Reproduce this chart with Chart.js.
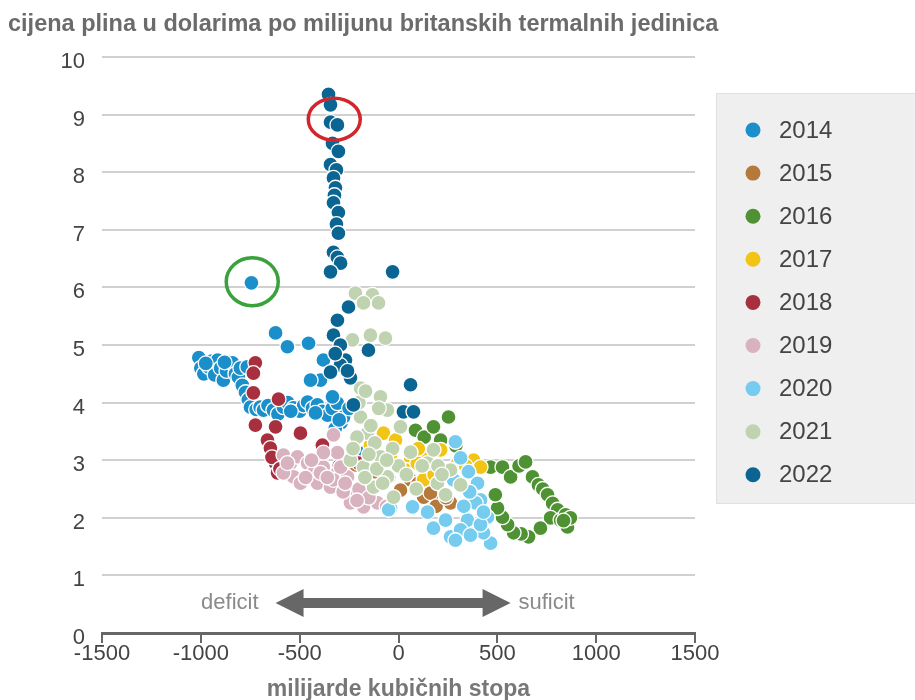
<!DOCTYPE html>
<html>
<head>
<meta charset="utf-8">
<script src="https://cdn.jsdelivr.net/npm/chart.js@4.4.1/dist/chart.umd.min.js"></script>
<style>
html,body{margin:0;padding:0;background:#fff;}
#wrap{width:915px;height:700px;position:relative;}
</style>
</head>
<body>
<div id="wrap"><canvas id="c" width="915" height="700"></canvas></div>
<script>
// ---- data (x: milijarde kubičnih stopa, y: cijena plina $/MMBtu) ----
const years = ['2014','2015','2016','2017','2018','2019','2020','2021','2022'];
const colors = ['#1b8fca','#b5793c','#4f9233','#f2c416','#a8303e','#d9b2bf','#76ccef','#c0d3b1','#0b6593'];

const d2014 = [[-1010,4.78],[-1000,4.6],[-985,4.5],[-960,4.62],[-945,4.72],[-930,4.48],[-915,4.74],[-900,4.6],[-886,4.39],[-870,4.55],[-855,4.7],[-840,4.69],[-825,4.5],[-810,4.44],[-800,4.6],[-790,4.3],[-774,4.18],[-760,4.05],[-749,3.92],[-720,3.88],[-700,3.92],[-683,3.87],[-660,3.95],[-633,3.87],[-610,3.8],[-582,3.92],[-560,4.0],[-531,3.91],[-500,3.85],[-480,3.95],[-460,4.01],[-435,3.9],[-410,3.96],[-385,3.85],[-359,3.78],[-335,3.9],[-309,3.99],[-290,3.65],[-278,3.75],[-334,4.1],[-395,4.39],[-445,4.39],[-380,4.74],[-455,5.03],[-562,4.97],[-622,5.21],[-744,6.08],[-182,3.12],[-320,3.55],[-250,3.9],[-975,4.68],[-880,4.7],[-765,4.62],[-545,3.85],[-420,3.82],[-300,3.7]];
const d2015 = [[127,2.36],[213,2.31],[263,2.26],[162,2.43],[-218,2.92],[-268,2.69],[-167,2.66],[61,2.66],[10,2.48],[-120,2.8],[190,2.2],[240,2.35],[100,2.6],[-50,2.7]];
const d2016 = [[86,3.52],[130,3.4],[177,3.58],[253,3.75],[213,3.35],[290,3.25],[466,2.88],[526,2.88],[567,2.71],[610,2.9],[643,2.97],[678,2.71],[708,2.57],[730,2.5],[754,2.4],[780,2.25],[805,2.14],[769,2.0],[718,1.82],[658,1.67],[620,1.72],[582,1.74],[552,1.88],[526,2.01],[501,2.17],[490,2.4],[820,1.96],[845,2.05],[855,1.84],[870,2.0],[835,1.95]];
const d2017 = [[-76,3.47],[-15,3.35],[147,3.06],[127,2.66],[380,3.0],[415,2.88],[213,3.18],[61,3.0],[-142,3.26],[263,2.83],[35,2.83],[95,2.95],[-40,3.1],[180,2.75],[300,2.95],[340,2.9],[100,3.2]];
const d2018 = [[-724,4.69],[-734,4.51],[-734,4.17],[-607,4.06],[-724,3.61],[-622,3.58],[-496,3.47],[-663,3.35],[-648,3.21],[-622,2.95],[-612,2.78],[-385,3.09],[-385,3.26],[-202,2.95],[-640,3.05],[-600,2.85],[-300,2.9],[-250,3.0]];
const d2019 = [[-329,3.44],[-309,3.13],[-582,3.09],[-546,2.95],[-511,3.06],[-460,2.95],[-430,2.78],[-380,2.88],[-410,2.6],[-531,2.71],[-582,2.78],[-309,2.78],[-344,2.53],[-496,2.6],[-562,2.95],[-395,2.78],[-329,2.66],[-258,2.71],[-228,2.36],[-243,2.26],[-177,2.19],[-106,2.26],[-293,2.88],[-380,3.13],[-470,2.7],[-200,2.5],[-150,2.35],[-60,2.2],[-280,2.45],[-440,3.0],[-360,2.7],[-270,2.6],[-210,2.3]];
const d2020 = [[288,3.32],[314,3.04],[354,2.8],[400,2.6],[415,2.31],[450,2.01],[466,1.56],[430,1.74],[349,1.96],[263,1.67],[177,1.82],[147,2.1],[71,2.19],[-40,2.17],[278,2.66],[390,2.26],[314,1.79],[364,1.7],[415,1.88],[238,1.96],[288,1.61],[330,2.2],[360,2.45],[430,2.1],[-50,2.14]];
const d2021 = [[-218,5.9],[-132,5.87],[-101,5.73],[-177,5.73],[-233,5.09],[-142,5.17],[-66,5.12],[-192,4.25],[-91,4.1],[-56,3.87],[-192,3.75],[-157,3.47],[10,3.58],[61,3.14],[-177,2.88],[-91,3.06],[-56,2.71],[-126,2.53],[-25,2.36],[147,2.95],[197,2.6],[177,3.18],[263,2.83],[314,2.57],[238,2.4],[-243,3.0],[-200,4.0],[-120,3.3],[-30,3.2],[0,2.9],[40,2.75],[90,2.5],[120,2.9],[200,2.9],[220,2.75],[-80,2.6],[-150,3.1],[-210,3.4],[-167,4.2],[-230,3.2],[-170,2.7],[-110,2.85],[-60,3.0],[-140,3.6],[-100,3.9]];
const d2022 = [[-354,9.35],[-344,9.17],[-344,8.87],[-309,8.82],[-334,8.5],[-304,8.36],[-344,8.13],[-314,8.04],[-329,7.9],[-319,7.73],[-324,7.6],[-329,7.47],[-304,7.3],[-314,7.1],[-304,6.94],[-329,6.61],[-309,6.52],[-293,6.42],[-344,6.27],[-30,6.27],[-253,5.66],[-309,5.43],[-329,5.17],[-294,5.0],[-152,4.91],[-268,4.74],[-294,4.65],[-344,4.53],[-243,4.43],[-258,4.55],[-228,3.96],[61,4.31],[25,3.84],[76,3.84],[-320,4.85]];

const seriesData = [d2014,d2015,d2016,d2017,d2018,d2019,d2020,d2021,d2022];

const yTicks = [0,1,2,3,4,5,6,7,8,9,10];
const xTicks = [-1500,-1000,-500,0,500,1000,1500];

const titleText = 'cijena plina u dolarima po milijunu britanskih termalnih jedinica';
const xTitleText = 'milijarde kubičnih stopa';
const deficitText = 'deficit';
const suficitText = 'suficit';

const FONT = '"Liberation Sans", Arial, sans-serif';

const datasets = years.map((yr, i) => ({
  label: yr,
  data: seriesData[i].map(p => ({x: p[0], y: p[1]})),
  backgroundColor: colors[i],
  borderColor: '#ffffff',
  borderWidth: 1.3,
  pointRadius: 7.5,
  pointHoverRadius: 7.5,
  order: years.length - i
}));

const overlay = {
  id: 'overlay',
  afterDatasetsDraw(chart) {
    const ctx = chart.ctx;
    const xs = chart.scales.x, ys = chart.scales.y;
    ctx.save();
    // arrow deficit <-> suficit
    const ay = ys.getPixelForValue(0.52);
    const xl = xs.getPixelForValue(-622), xr = xs.getPixelForValue(567);
    const hl = 28, hh = 14, sh = 5;
    ctx.fillStyle = '#676767';
    ctx.beginPath();
    ctx.moveTo(xl, ay);
    ctx.lineTo(xl + hl, ay - hh);
    ctx.lineTo(xl + hl, ay - sh);
    ctx.lineTo(xr - hl, ay - sh);
    ctx.lineTo(xr - hl, ay - hh);
    ctx.lineTo(xr, ay);
    ctx.lineTo(xr - hl, ay + hh);
    ctx.lineTo(xr - hl, ay + sh);
    ctx.lineTo(xl + hl, ay + sh);
    ctx.lineTo(xl + hl, ay + hh);
    ctx.closePath();
    ctx.fill();
    ctx.font = '22px ' + FONT;
    ctx.fillStyle = '#8a8a8a';
    ctx.textBaseline = 'middle';
    ctx.textAlign = 'right';
    ctx.fillText(deficitText, xs.getPixelForValue(-708), ay);
    ctx.textAlign = 'left';
    ctx.fillText(suficitText, xs.getPixelForValue(607), ay);
    // highlight circles
    ctx.lineWidth = 3.5;
    ctx.strokeStyle = '#3aa23c';
    ctx.beginPath();
    ctx.ellipse(xs.getPixelForValue(-740), ys.getPixelForValue(6.1), 26, 24, 0, 0, Math.PI * 2);
    ctx.stroke();
    ctx.strokeStyle = '#d2262d';
    ctx.beginPath();
    ctx.ellipse(xs.getPixelForValue(-325), ys.getPixelForValue(8.92), 26, 21, 0, 0, Math.PI * 2);
    ctx.stroke();
    ctx.restore();
  },
  afterDraw(chart) {
    const ctx = chart.ctx;
    ctx.save();
    // title
    ctx.font = 'bold 23.5px ' + FONT;
    ctx.fillStyle = '#6b6b6b';
    ctx.textBaseline = 'middle';
    ctx.textAlign = 'left';
    ctx.fillText(titleText, 8, 25);
    // legend box
    const lx = 716, ly = 93, lw = 210, lh = 410;
    ctx.fillStyle = '#efefef';
    ctx.fillRect(lx, ly, lw, lh);
    ctx.strokeStyle = '#e0e0e0';
    ctx.lineWidth = 1;
    ctx.strokeRect(lx + 0.5, ly + 0.5, lw, lh);
    ctx.font = '24px ' + FONT;
    years.forEach((yr, i) => {
      const cy = 130 + i * 43.1;
      ctx.beginPath();
      ctx.arc(753, cy, 7.5, 0, Math.PI * 2);
      ctx.fillStyle = colors[i];
      ctx.fill();
      ctx.fillStyle = '#444';
      ctx.textAlign = 'left';
      ctx.textBaseline = 'middle';
      ctx.fillText(yr, 779, cy + 1);
    });
    ctx.restore();
  }
};

Chart.defaults.font.family = FONT;

new Chart(document.getElementById('c'), {
  type: 'scatter',
  data: { datasets },
  options: {
    responsive: false,
    animation: false,
    devicePixelRatio: 1,
    layout: { padding: { top: 57, right: 220, bottom: 0, left: 0 } },
    plugins: { legend: { display: false }, tooltip: { enabled: false } },
    scales: {
      x: {
        type: 'linear', min: -1500, max: 1500,
        afterBuildTicks(s) { s.ticks = xTicks.map(v => ({value: v})); },
        afterFit(s) { s.height = 67; },
        ticks: { font: { size: 22 }, color: '#444', padding: -2, maxRotation: 0, autoSkip: false, callback: (v) => String(v) },
        grid: { drawOnChartArea: false, drawTicks: true, tickLength: 10, color: '#666', lineWidth: 2 },
        border: { display: true, color: '#666', width: 3 },
        title: { display: true, text: xTitleText, font: { size: 23, weight: 'bold' }, color: '#777', padding: { top: 0, bottom: -3 } }
      },
      y: {
        type: 'linear', min: 0, max: 10,
        afterBuildTicks(s) { s.ticks = yTicks.map(v => ({value: v})); },
        afterFit(s) { s.width = 102; },
        ticks: { font: { size: 22 }, color: '#444', padding: 17, labelOffset: 5, callback: (v) => String(v) },
        grid: { drawTicks: false, lineWidth: 2, color: (c) => (c.tick && c.tick.value === 0) ? 'rgba(0,0,0,0)' : '#d0d0d0' },
        border: { display: false }
      }
    }
  },
  plugins: [overlay]
});
</script>
</body>
</html>
